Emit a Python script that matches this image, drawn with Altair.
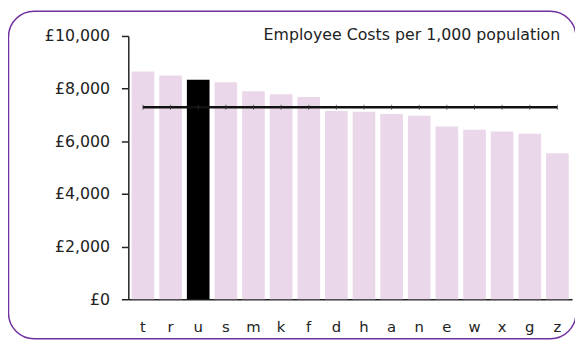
import altair as alt
import pandas as pd

categories = ["t", "r", "u", "s", "m", "k", "f", "d", "h", "a", "n", "e", "w", "x", "g", "z"]
values = [8650, 8500, 8340, 8240, 7900, 7790, 7680, 7150, 7120, 7040, 6970, 6560, 6440, 6370, 6290, 5550]
average = 7290
highlight = "u"
title_text = "Employee Costs per 1,000 population"

df = pd.DataFrame({"cat": categories, "value": values})
df["avg"] = average
df["hl"] = [c == highlight for c in categories]

FONT = "DejaVu Sans"
W, H = 450, 267

xaxis = alt.Axis(labelAngle=0, ticks=False, domainColor="#222", domainWidth=1.5,
                 grid=False, labelFont=FONT, labelFontSize=15, labelColor="#222",
                 labelPadding=21)
yaxis = alt.Axis(values=[0, 2000, 4000, 6000, 8000, 10000], grid=False,
                 labelExpr="'£' + format(datum.value, ',')",
                 domainColor="#222", domainWidth=1.5, tickColor="#222",
                 tickSize=7, tickWidth=1.5, labelPadding=12,
                 labelFont=FONT, labelFontSize=16, labelColor="#222")
xscale = alt.Scale(paddingInner=0.18, paddingOuter=0.12)
yscale = alt.Scale(domain=[0, 10000])


def X():
    return alt.X("cat:N", sort=categories, title=None, scale=xscale, axis=xaxis)


def Y(field):
    return alt.Y(field, title=None, scale=yscale, axis=yaxis)


base = alt.Chart(df)

bars = base.mark_bar(stroke=None).encode(
    x=X(), y=Y("value:Q"),
    color=alt.condition(alt.datum.hl, alt.value("#000000"), alt.value("#EAD8EA")),
)

avg_line = base.mark_line(color="#111", strokeWidth=2.5).encode(x=X(), y=Y("avg:Q"))

avg_ticks = base.mark_tick(color="#333", size=5, thickness=1, orient="vertical").encode(
    x=X(), y=Y("avg:Q"))

title = alt.Chart(pd.DataFrame({"t": [title_text]})).mark_text(
    align="right", baseline="middle", font=FONT, fontSize=16, color="#222",
).encode(text="t:N", x=alt.value(438), y=alt.value(-1))

border = alt.Chart(pd.DataFrame({"a": [0]})).mark_rect(
    fillOpacity=0, stroke="#7030A0", strokeWidth=1.5, cornerRadius=26, clip=False,
).encode(x=alt.value(-121.5), x2=alt.value(454), y=alt.value(-25), y2=alt.value(307))

chart = alt.layer(border, bars, avg_line, avg_ticks, title).properties(
    width=W, height=H,
    autosize=alt.AutoSizeParams(type="none"),
    padding={"left": 122, "top": 26, "right": 3, "bottom": 42},
).configure(background="white").configure_view(stroke=None).configure_axis(grid=False)

chart.save("out.html", embed_options={"renderer": "svg", "actions": False})
